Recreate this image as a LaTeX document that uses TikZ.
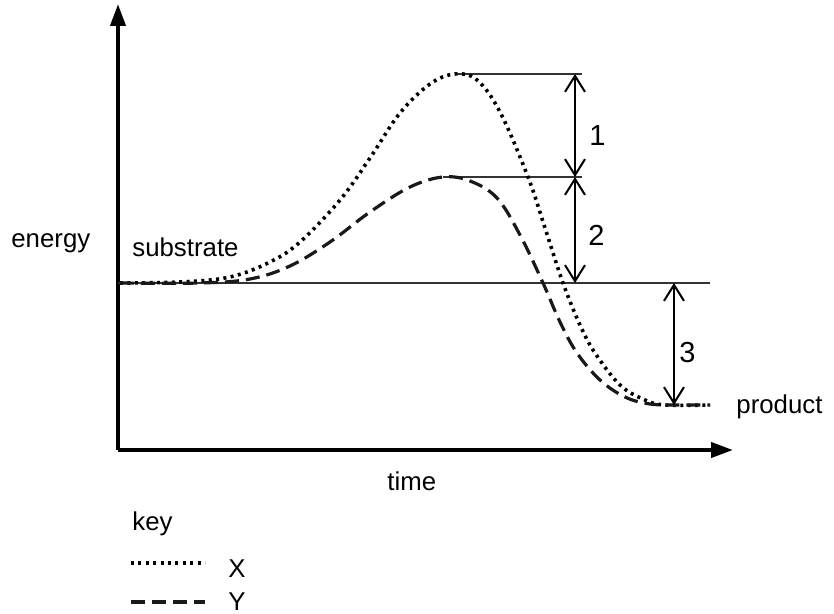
\documentclass[tikz,border=0pt]{standalone}
\usepackage{fontspec}
\setmainfont{Liberation Sans}
\usetikzlibrary{arrows.meta, positioning}
\tikzset{
  axis/.style={line width=2pt, -{Triangle[length=11pt, width=7.5pt]}},
  level/.style={line width=0.6pt, black!80},
  gap/.style={line width=1pt, {Straight Barb[length=8pt, width=10pt]}-{Straight Barb[length=8pt, width=10pt]}},
  curvex/.style={line width=1.8pt, dash pattern=on 1.5pt off 2.2pt, black},
  curvey/.style={line width=1.6pt, dash pattern=on 7pt off 3.5pt, black!90},
  lbl/.style={inner sep=0pt, anchor=base west, font=\fontsize{12.9}{15}\selectfont},
  digit/.style={lbl, font=\fontsize{14.5}{17}\selectfont}
}
\begin{document}
\begin{tikzpicture}[x=0.5pt, y=-0.5pt]
    \useasboundingbox (0,0) rectangle (834,614);

    % axes
    \coordinate (origin) at (118,450);
    \coordinate (ytip) at (118,4);
    \coordinate (xtip) at (733,450);
    \draw[axis] (origin) -- (ytip);
    \draw[axis] (origin) -- (xtip);

    % levels
    \coordinate (peakx) at (455,74);
    \coordinate (peaky) at (443,177);
    \coordinate (subst) at (118,283);
    \coordinate (topend) at (582,74);
    \coordinate (midend) at (582,177);
    \coordinate (subend) at (710,283);
    \draw[level] (peakx) -- (topend);
    \draw[level] (peaky) -- (midend);
    \draw[level] (subst) -- (subend);

    % curve X (dotted)
    \draw[curvex] plot[smooth, tension=0.6] coordinates {
      (120,283) (180,282) (230,277) (270,262) (300,242) (340,200) (370,158)
      (400,113) (430,84) (455,74) (477,80) (500,112) (528,177) (545,228)
      (563,283) (580,325) (595,353) (620,385) (645,400) (665,405) (710,405)};
    % curve Y (dashed)
    \draw[curvey] plot[smooth, tension=0.6] coordinates {
      (120,283) (200,283) (250,279) (290,266) (330,242) (370,212) (410,187)
      (443,177) (470,181) (497,198) (520,235) (543,283) (560,322) (577,353)
      (600,380) (625,397) (650,404) (680,405) (710,405)};

    % differences
    \coordinate (a1) at (575,74);
    \coordinate (a2) at (575,177);
    \coordinate (a3) at (575,283);
    \coordinate (b1) at (674,283);
    \coordinate (b2) at (674,405);
    \draw[gap] (a1) -- (a2);
    \draw[gap] (a2) -- (a3);
    \draw[gap] (b1) -- (b2);

    % labels
    \node[digit] (one) at (589,146) {1};
    \node[digit] (two) at (588,246) {2};
    \node[digit] (three) at (679,363) {3};
    \node[lbl] (energy) at (11,248) {energy};
    \node[lbl] (substrate) at (132,257) {substrate};
    \node[lbl] (product) at (736,413) {product};
    \node[lbl] (time) at (387,490) {time};
    \node[lbl] (key) at (132,530) {key};

    % key
    \coordinate (kx1) at (131,563);
    \coordinate (kx2) at (205,563);
    \coordinate (ky1) at (131,602);
    \coordinate (ky2) at (205,602);
    \draw[curvex] (kx1) -- (kx2);
    \draw[curvey] (ky1) -- (ky2);
    \node[lbl] (xname) at (228,577) {X};
    \node[lbl] (yname) at (228,610) {Y};
\end{tikzpicture}
\end{document}
